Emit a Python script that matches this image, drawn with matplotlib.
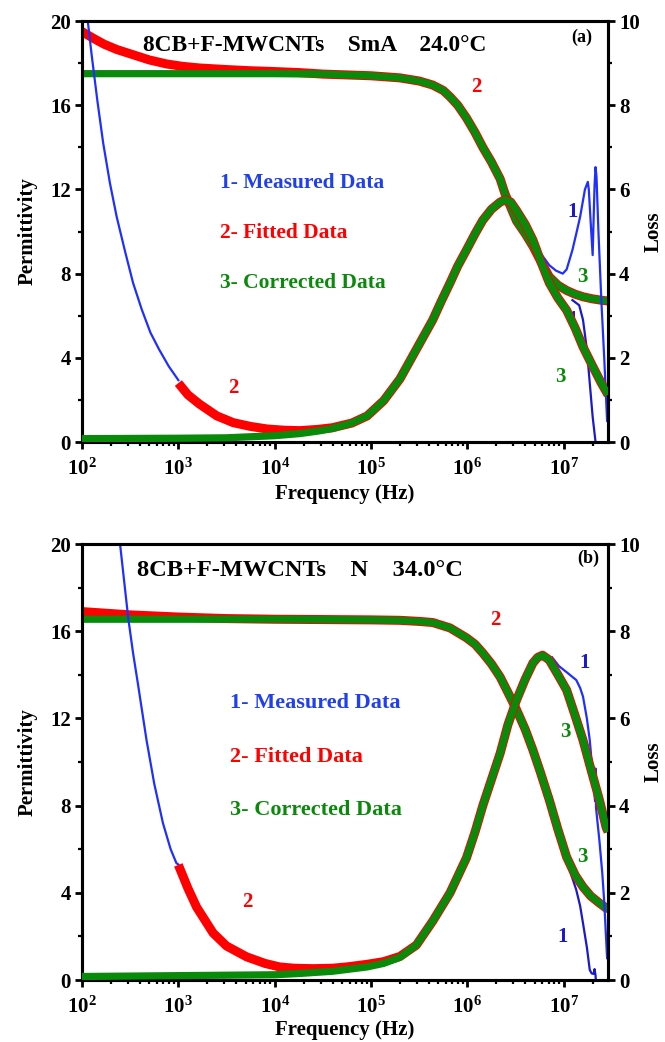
import matplotlib
matplotlib.use("Agg")
import matplotlib.pyplot as plt
from matplotlib.ticker import MultipleLocator, LogLocator, FuncFormatter, NullFormatter
import numpy as np

plt.rcParams['font.family'] = ['Liberation Serif', 'DejaVu Serif']
plt.rcParams['font.weight'] = 'bold'
plt.rcParams['axes.labelweight'] = 'bold'
plt.rcParams['mathtext.fontset'] = 'custom'
plt.rcParams['mathtext.rm'] = 'Liberation Serif:bold'
plt.rcParams['mathtext.bf'] = 'Liberation Serif:bold'

# frequencies are given as log10(f / Hz)

# ---------------- panel (a) : SmA 24.0 C ----------------
# permittivity, corrected (left axis)
a_lf_eps = [2.0, 4.0, 4.5, 5.0, 5.3, 5.5, 5.64, 5.75, 5.82, 5.9, 5.99, 6.08, 6.16, 6.25,
            6.34, 6.39, 6.51, 6.6, 6.68, 6.76, 6.85, 6.94, 7.03, 7.12, 7.2, 7.3, 7.4, 7.46]
a_eps_corr = [17.5, 17.5, 17.48, 17.4, 17.3, 17.15, 16.96, 16.7, 16.4, 16.0, 15.4, 14.7, 14.0, 13.3,
              12.5, 11.8, 10.5, 9.9, 9.3, 8.6, 7.85, 7.45, 7.2, 7.02, 6.9, 6.8, 6.73, 6.7]
# permittivity, fitted: low-frequency part, joins the corrected curve above 10^4.3
a_lf_eps_fit = [2.0, 2.11, 2.23, 2.36, 2.53, 2.7, 2.88, 3.04, 3.22, 3.48, 3.74, 4.0, 4.26]
a_eps_fit = [19.5, 19.2, 18.9, 18.65, 18.4, 18.15, 17.96, 17.85, 17.77, 17.7, 17.64, 17.6, 17.55]
# loss, corrected (right axis)
a_lf_loss = [2.0, 3.0, 3.5, 4.0, 4.26, 4.45, 4.6, 4.8, 4.96, 5.13, 5.3, 5.47, 5.64, 5.73, 5.82,
             5.9, 5.99, 6.08, 6.16, 6.25, 6.34, 6.39, 6.45, 6.51, 6.6, 6.68, 6.76, 6.85, 6.94,
             7.03, 7.12, 7.2, 7.3, 7.39, 7.46]
a_loss_corr = [0.08, 0.09, 0.1, 0.15, 0.2, 0.26, 0.32, 0.45, 0.62, 0.98, 1.5, 2.2, 2.9, 3.35, 3.78,
               4.18, 4.56, 4.95, 5.27, 5.53, 5.7, 5.75, 5.7, 5.5, 5.17, 4.8, 4.3, 3.78, 3.42,
               3.13, 2.7, 2.26, 1.8, 1.4, 1.12]
# loss, fitted: conductivity tail from 10^3, joins the corrected curve
a_lf_loss_fit = [3.0, 3.1, 3.22, 3.4, 3.57, 3.75, 3.92, 4.1, 4.26, 4.45, 4.6, 4.8]
a_loss_fit = [1.4, 1.12, 0.9, 0.62, 0.46, 0.37, 0.31, 0.28, 0.27, 0.3, 0.34, 0.45]
# measured data (blue)
a_lf_meas_lo = [2.03, 2.06, 2.1, 2.16, 2.22, 2.29, 2.36, 2.45, 2.53, 2.62, 2.71, 2.8, 2.9, 3.0]
a_loss_meas_lo = [10.6, 10.0, 9.2, 8.1, 7.1, 6.15, 5.35, 4.5, 3.78, 3.15, 2.6, 2.2, 1.8, 1.47]
a_lf_meas_hi = [6.72, 6.78, 6.85, 6.92, 6.99, 7.03, 7.09, 7.13, 7.17, 7.22, 7.25, 7.26, 7.28,
                7.30, 7.31, 7.32, 7.33, 7.34, 7.36, 7.39, 7.42, 7.45]
a_loss_meas_hi = [4.63, 4.42, 4.2, 4.07, 4.0, 4.1, 4.56, 4.95, 5.35, 6.0, 6.18, 6.0, 5.2,
                  4.44, 5.3, 6.1, 6.53, 6.3, 5.0, 3.37, 2.0, 0.5]
a_lf_eps_meas = [7.09, 7.16, 7.2, 7.24, 7.27, 7.30, 7.33, 7.35]
a_eps_meas = [6.74, 6.5, 5.8, 4.4, 2.8, 1.2, 0.0, -1.0]

# ---------------- panel (b) : N 34.0 C ----------------
b_lf_eps = [2.0, 4.0, 5.0, 5.3, 5.5, 5.64, 5.82, 5.99, 6.08, 6.16, 6.25, 6.34, 6.42, 6.51,
            6.6, 6.68, 6.76, 6.85, 6.94, 7.03, 7.12, 7.2, 7.28, 7.37, 7.44, 7.46]
b_eps_corr = [16.55, 16.55, 16.52, 16.5, 16.45, 16.4, 16.15, 15.7, 15.4, 15.0, 14.5, 13.9, 13.2, 12.4,
              11.5, 10.55, 9.5, 8.26, 6.9, 5.64, 4.8, 4.27, 3.85, 3.53, 3.3, 3.28]
b_lf_eps_fit = [2.0, 2.5, 3.0, 3.5, 4.0]
b_eps_fit = [16.9, 16.75, 16.65, 16.58, 16.55]
b_lf_loss = [2.0, 4.0, 4.26, 4.6, 4.96, 5.13, 5.3, 5.47, 5.64, 5.82, 5.99, 6.08, 6.16, 6.25,
             6.34, 6.42, 6.51, 6.6, 6.68, 6.73, 6.78, 6.85, 6.94, 7.03, 7.12, 7.2, 7.28,
             7.37, 7.44, 7.46]
b_loss_corr = [0.08, 0.12, 0.15, 0.2, 0.3, 0.38, 0.52, 0.8, 1.35, 2.0, 2.8, 3.4, 4.0, 4.6,
               5.2, 5.85, 6.42, 6.9, 7.27, 7.4, 7.45, 7.34, 7.0, 6.65, 6.05, 5.5, 4.85,
               4.13, 3.5, 3.4]
b_lf_loss_fit = [3.0, 3.1, 3.19, 3.36, 3.5, 3.71, 3.9, 4.05, 4.2, 4.4, 4.6, 4.75, 4.96, 5.13, 5.3]
b_loss_fit = [2.64, 2.1, 1.67, 1.08, 0.78, 0.53, 0.38, 0.3, 0.27, 0.26, 0.27, 0.3, 0.36, 0.42, 0.54]
b_lf_meas_lo = [2.36, 2.39, 2.44, 2.48, 2.53, 2.58, 2.67, 2.75, 2.84, 2.92, 2.98, 3.0]
b_loss_meas_lo = [10.5, 10.1, 9.1, 8.3, 7.5, 6.8, 5.5, 4.5, 3.6, 3.0, 2.68, 2.65]
b_lf_meas_hi = [6.88, 6.95, 7.03, 7.08, 7.13, 7.17, 7.2, 7.24, 7.27, 7.30, 7.325, 7.33, 7.335,
                7.37, 7.40, 7.42, 7.45]
b_loss_meas_hi = [7.4, 7.2, 7.06, 6.97, 6.88, 6.7, 6.5, 6.0, 5.5, 4.75, 4.1, 4.85, 3.95,
                  3.2, 2.45, 1.8, 0.5]
b_lf_eps_meas = [6.93, 6.98, 7.03, 7.08, 7.13, 7.17, 7.2, 7.24, 7.27, 7.29, 7.31, 7.32, 7.33, 7.34]
b_eps_meas = [6.74, 6.1, 5.5, 4.8, 4.13, 3.4, 2.6, 1.5, 0.46, 0.3, 0.28, 0.5, 0.2, -0.5]

BLUE = '#1f2fff'
DBLUE = '#1a1acc'
LBLUE = '#2040ee'
RED = '#ff0000'
GREEN = '#0a8a0a'
TICKFMT = FuncFormatter(lambda v, p: r'$\mathbf{10^{%d}}$' % round(np.log10(v)))

fig = plt.figure(figsize=(6.65, 10.42), dpi=100)


def hz(lf):
    return np.power(10.0, lf)


def panel(rect, d, title, tag, texts, xpad):
    ax = fig.add_axes(rect)
    ax2 = ax.twinx()
    # fitted curves = low-frequency fitted part + the corrected curve beyond it
    eps_fit_f = np.r_[d['lf_eps_fit'], [x for x in d['lf_eps'] if x > d['lf_eps_fit'][-1]]]
    eps_fit_v = np.r_[d['eps_fit'], [v for x, v in zip(d['lf_eps'], d['eps_corr']) if x > d['lf_eps_fit'][-1]]]
    loss_fit_f = np.r_[d['lf_loss_fit'], [x for x in d['lf_loss'] if x > d['lf_loss_fit'][-1]]]
    loss_fit_v = np.r_[d['loss_fit'], [v for x, v in zip(d['lf_loss'], d['loss_corr']) if x > d['lf_loss_fit'][-1]]]

    ax.plot(hz(d['lf_eps_meas']), d['eps_meas'], color=DBLUE, lw=1.6, zorder=1)
    ax.plot(hz(eps_fit_f), eps_fit_v, color=RED, lw=6.5, zorder=2, solid_capstyle='butt')
    ax.plot(hz(d['lf_eps']), d['eps_corr'], color=GREEN, lw=5.2, zorder=3, solid_capstyle='butt')
    ax2.plot(hz(d['lf_meas_lo']), d['loss_meas_lo'], color=BLUE, lw=1.6, zorder=1)
    ax2.plot(hz(d['lf_meas_hi']), d['loss_meas_hi'], color=BLUE, lw=1.6, zorder=1)
    ax2.plot(hz(loss_fit_f), loss_fit_v, color=RED, lw=6.5, zorder=2, solid_capstyle='butt')
    ax2.plot(hz(d['lf_loss']), d['loss_corr'], color=GREEN, lw=5.2, zorder=3, solid_capstyle='butt')

    ax.set_xscale('log')
    ax.set_xlim(100, 2.88e7)
    ax.set_ylim(0, 20)
    ax2.set_ylim(0, 10)
    ax.xaxis.set_major_locator(LogLocator(base=10, numticks=10))
    ax.xaxis.set_minor_locator(LogLocator(base=10, subs=np.arange(2, 10), numticks=10))
    ax.xaxis.set_minor_formatter(NullFormatter())
    ax.xaxis.set_major_formatter(TICKFMT)
    ax.yaxis.set_major_locator(MultipleLocator(4))
    ax.yaxis.set_minor_locator(MultipleLocator(2))
    ax2.yaxis.set_major_locator(MultipleLocator(2))
    ax2.yaxis.set_minor_locator(MultipleLocator(1))
    for a in (ax, ax2):
        for s in a.spines.values():
            s.set_linewidth(2.2)
        a.tick_params(which='major', direction='out', length=5, width=2, labelsize=15, pad=3)
        a.tick_params(which='minor', direction='out', length=3, width=1.6)
    ax.tick_params(axis='x', which='major', pad=7)
    ax.set_xlabel('Frequency (Hz)', fontsize=15, labelpad=xpad)
    ax.set_ylabel('Permittivity', fontsize=15, labelpad=9)
    ax2.set_ylabel('Loss', fontsize=15, labelpad=3)

    ax.text(title[0], title[1], title[2], transform=ax.transAxes, fontsize=title[3],
            ha='left', va='center', color='black')
    ax.text(tag[0], tag[1], tag[2], transform=ax.transAxes, fontsize=13,
            ha='center', va='center', color='black')
    for x, y, s, c, fs in texts:
        ax.text(x, y, s, transform=ax.transAxes, fontsize=fs, ha=('left' if len(s) > 1 else 'center'),
                va='center', color=c, zorder=5)
    return ax


da = dict(lf_eps=a_lf_eps, eps_corr=a_eps_corr, lf_eps_fit=a_lf_eps_fit, eps_fit=a_eps_fit,
          lf_loss=a_lf_loss, loss_corr=a_loss_corr, lf_loss_fit=a_lf_loss_fit, loss_fit=a_loss_fit,
          lf_meas_lo=a_lf_meas_lo, loss_meas_lo=a_loss_meas_lo, lf_meas_hi=a_lf_meas_hi,
          loss_meas_hi=a_loss_meas_hi, lf_eps_meas=a_lf_eps_meas, eps_meas=a_eps_meas)
db = dict(lf_eps=b_lf_eps, eps_corr=b_eps_corr, lf_eps_fit=b_lf_eps_fit, eps_fit=b_eps_fit,
          lf_loss=b_lf_loss, loss_corr=b_loss_corr, lf_loss_fit=b_lf_loss_fit, loss_fit=b_loss_fit,
          lf_meas_lo=b_lf_meas_lo, loss_meas_lo=b_loss_meas_lo, lf_meas_hi=b_lf_meas_hi,
          loss_meas_hi=b_loss_meas_hi, lf_eps_meas=b_lf_eps_meas, eps_meas=b_eps_meas)

panel([0.1233, 0.5758, 0.791, 0.404], da,
      (0.116, 0.943, '8CB+F-MWCNTs    SmA    24.0°C', 16.8), (0.951, 0.962, '(a)'),
      [(0.262, 0.615, '1- Measured Data', LBLUE, 15.5),
       (0.262, 0.496, '2- Fitted Data', RED, 15.5),
       (0.262, 0.378, '3- Corrected Data', GREEN, 15.5),
       (0.749, 0.843, '2', RED, 15), (0.287, 0.128, '2', RED, 15),
       (0.932, 0.546, '1', DBLUE, 15), (0.952, 0.392, '3', GREEN, 15),
       (0.932, 0.290, '1', DBLUE, 15), (0.909, 0.154, '3', GREEN, 15)], 3)
panel([0.1233, 0.0595, 0.791, 0.4184], db,
      (0.105, 0.940, '8CB+F-MWCNTs    N    34.0°C', 17.6), (0.962, 0.968, '(b)'),
      [(0.281, 0.635, '1- Measured Data', LBLUE, 16),
       (0.281, 0.511, '2- Fitted Data', RED, 16),
       (0.281, 0.390, '3- Corrected Data', GREEN, 16),
       (0.785, 0.826, '2', RED, 15), (0.314, 0.179, '2', RED, 15),
       (0.956, 0.727, '1', DBLUE, 15), (0.918, 0.569, '3', GREEN, 15),
       (0.952, 0.282, '3', GREEN, 15), (0.914, 0.099, '1', DBLUE, 15)], 1.5)

fig.savefig('out.png', dpi=100)
